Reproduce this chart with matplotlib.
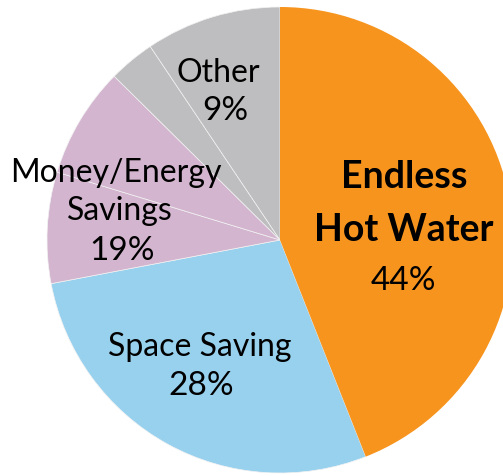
import matplotlib.pyplot as plt

# slices clockwise from 12 o'clock (sub-slices)
slice_values = [44, 28, 7.7, 7.7, 3.2, 9.4]
slice_colors = ["#F7941E", "#98D1EE", "#D3B5CF", "#D3B5CF", "#BEBEC0", "#BEBEC0"]

# labels: (lines, percent)
labels = ["Endless\nHot Water", "Space Saving", "Money/Energy\nSavings", "Other"]
percents = ["44%", "28%", "19%", "9%"]

W, H = 503, 476
fig = plt.figure(figsize=(W / 100, H / 100), dpi=100)
ax = fig.add_axes([0, 0, 1, 1])

wedges, _ = ax.pie(slice_values, colors=slice_colors, startangle=90, counterclock=False,
                   center=(280, H - 240), radius=233,
                   wedgeprops=dict(linewidth=0.5, edgecolor="#f2f2f2"))
# no light seam around the orange slice
wedges[0].set_linewidth(0)
wedges[0].set_zorder(3)
ax.set_xlim(0, W)
ax.set_ylim(0, H)
ax.set_aspect("equal")
ax.axis("off")

font = "Lato"
fs = 23

def put(x, y, s, bold=False, size=fs):
    # y given in pixels from the top, text baseline
    ax.text(x, H - y, s, ha="center", va="baseline", fontsize=size,
            family=font, fontweight="bold" if bold else "normal", color="black",
            zorder=5)

# Endless Hot Water
title_lines = labels[0].split("\n")
put(404, 188, title_lines[0], bold=True, size=27)
put(404, 241, title_lines[1], bold=True, size=27)
put(403, 290, percents[0], size=24)

# Space Saving
put(200, 356, labels[1])
put(201, 395, percents[1], size=24)

# Money/Energy Savings
me_lines = labels[2].split("\n")
put(116, 182, me_lines[0])
put(120, 220, me_lines[1])
put(122, 260, percents[2], size=24)

# Other
put(218, 82, labels[3])
put(225, 120, percents[3], size=24)

fig.savefig("out.png", dpi=100)
